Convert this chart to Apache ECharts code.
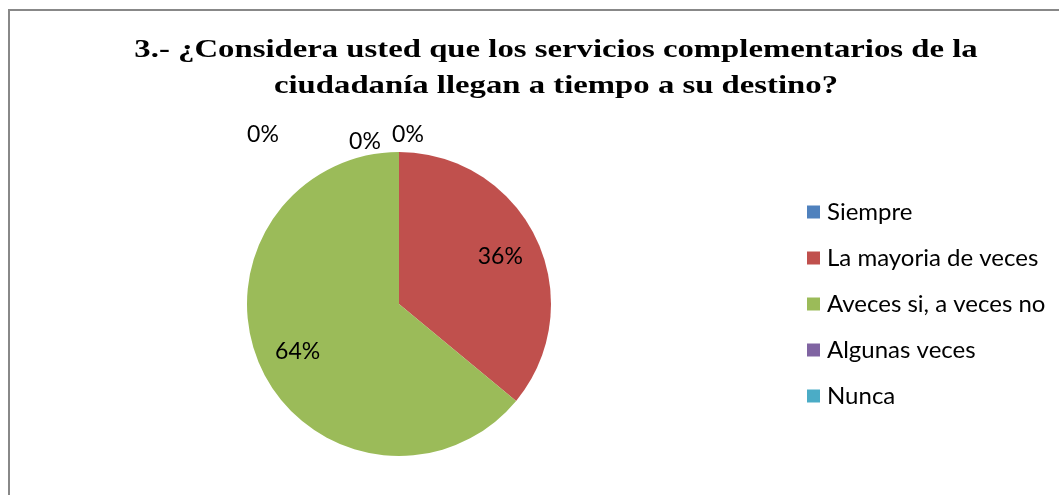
<!DOCTYPE html>
<html>
<head>
    <meta charset="utf-8">
    <title>ECharts</title>
    <script src="https://cdn.jsdelivr.net/npm/echarts@6/dist/echarts.min.js" charset="utf-8"></script>
</head>
<body style="margin:0;background-color:#ffffff">
<div id="main" style="width:1059px;height:495px"></div>
<script type="text/javascript">
    var titleLines = ['3.- ¿Considera usted que los servicios complementarios de la', 'ciudadanía llegan a tiempo a su destino?'];
    var categories = ['Siempre', 'La mayoria de veces', 'Aveces si, a veces no', 'Algunas veces', 'Nunca'];
    var values = [0, 36, 64, 0, 0];
    var colors = ['#4F81BD', '#C0504D', '#9BBB59', '#8064A2', '#4BACC6'];
    // zero slices sit on top of each other, so their labels get nudged apart
    var zeroOffsets = {0: [9, -57], 3: [-34, -50], 4: [-136, -57]};

    var myChart = echarts.init(document.getElementById('main'));

    var pieData = categories.map(function (name, i) {
        return {name: name, value: values[i], itemStyle: {color: colors[i]}};
    });
    var labelData = categories.map(function (name, i) {
        var d = {name: name, value: values[i]};
        if (zeroOffsets[i]) {
            d.label = {offset: zeroOffsets[i]};
        }
        return d;
    });

    // the title in the picture is stretched sideways, so draw it as scaled text
    var titleGraphics = titleLines.map(function (line, i) {
        return {
            type: 'text',
            x: 556,
            y: 63 + i * 36,
            scaleX: 1.31,
            silent: true,
            style: {
                text: line,
                font: 'bold 25px "Liberation Serif"',
                fill: '#000',
                textAlign: 'center',
                textVerticalAlign: 'bottom'
            }
        };
    });

    var option = {
        animation: false,
        legend: {
            orient: 'vertical',
            left: 802,
            top: 195,
            itemWidth: 13,
            itemHeight: 13,
            itemGap: 22,
            icon: 'rect',
            data: categories,
            textStyle: {
                fontFamily: 'Lato',
                fontSize: 24,
                color: '#000',
                lineHeight: 22,
                padding: [0, 0, 0, 2]
            }
        },
        graphic: [{
            type: 'rect',
            shape: {x: 9, y: 10, width: 1070, height: 500},
            style: {fill: 'none', stroke: '#888888', lineWidth: 2},
            silent: true
        }].concat(titleGraphics),
        series: [
            {
                type: 'pie',
                center: [399, 304],
                radius: [0, 152],
                startAngle: 90,
                clockwise: true,
                avoidLabelOverlap: false,
                label: {show: false},
                labelLine: {show: false},
                data: pieData
            },
            {
                type: 'pie',
                center: [399, 304],
                radius: [66, 152],
                startAngle: 90,
                clockwise: true,
                silent: true,
                avoidLabelOverlap: false,
                itemStyle: {color: 'rgba(0,0,0,0)'},
                label: {
                    show: true,
                    position: 'inside',
                    formatter: '{d}%',
                    fontFamily: 'Lato',
                    fontSize: 23,
                    color: '#000'
                },
                labelLine: {show: false},
                data: labelData
            }
        ]
    };

    myChart.setOption(option);
</script>
</body>
</html>
